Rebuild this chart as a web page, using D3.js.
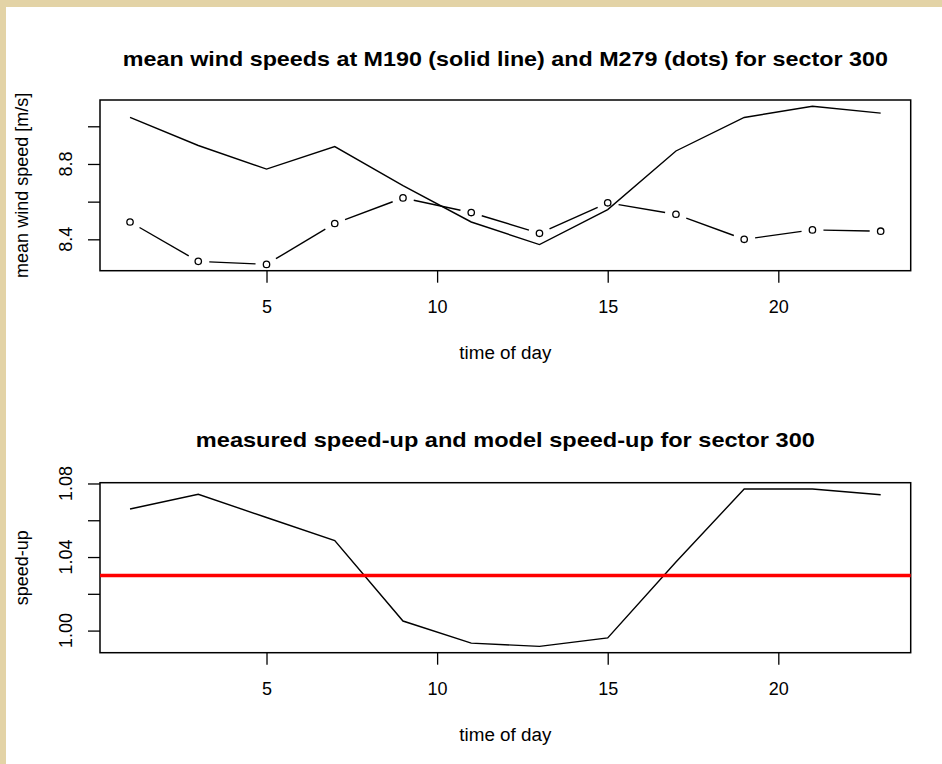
<!DOCTYPE html>
<html>
<head>
<meta charset="utf-8">
<script src="https://cdn.jsdelivr.net/npm/d3@7"></script>
<style>
  html, body { margin: 0; padding: 0; background: #fff; }
  svg { display: block; }
  text { font-family: "Liberation Sans", Arial, sans-serif; fill: #000; }
</style>
</head>
<body>
<svg id="chart" width="942" height="764"></svg>
<script>
// ---- data ----
const hours = [1, 3, 5, 7, 9, 11, 13, 15, 17, 19, 21, 23];
const m190 = [9.047, 8.898, 8.773, 8.892, 8.685, 8.492, 8.372, 8.558, 8.869, 9.047, 9.106, 9.070];
const m279 = [8.492, 8.283, 8.267, 8.484, 8.620, 8.542, 8.432, 8.594, 8.533, 8.400, 8.450, 8.443];
const speedup = [1.0661, 1.0741, 1.0615, 1.0490, 1.0052, 0.9932, 0.9914, 0.9960, 1.0373, 1.0770, 1.0770, 1.0739];
const modelSpeedup = 1.030;
const xTicks = [5, 10, 15, 20];
const yTicksTop = [8.4, 8.6, 8.8, 9.0];
const yLabelsTop = [8.4, 8.8];
const yTicksBot = [1.00, 1.02, 1.04, 1.06, 1.08];
const yLabelsBot = [1.00, 1.04, 1.08];

const title1 = "mean wind speeds at M190 (solid line) and M279 (dots) for sector 300";
const title2 = "measured speed-up and model speed-up for sector 300";

const svg = d3.select("#chart");
// beige frame (top and left)
svg.append("rect").attr("x", 0).attr("y", 0).attr("width", 942).attr("height", 764).attr("fill", "#e3d3a6");
svg.append("rect").attr("x", 6).attr("y", 7).attr("width", 936).attr("height", 757).attr("fill", "#ffffff");

function rExtent(vals) {
  const lo = d3.min(vals), hi = d3.max(vals), d = hi - lo;
  return [lo - 0.04 * d, hi + 0.04 * d];
}

const L = 100, R = 910.7;
const xDom = rExtent(hours);

function panel(opts) {
  const { top, bottom, yDom, yTicks, yLabels, title, titleY, titleLen, ylab, fmt } = opts;
  const x = d3.scaleLinear().domain(xDom).range([L, R]);
  const y = d3.scaleLinear().domain(yDom).range([bottom, top]);
  const g = svg.append("g");

  // x axis
  const xa = g.append("g").attr("transform", `translate(0,${bottom})`)
    .call(d3.axisBottom(x).tickValues(xTicks).tickSize(12).tickPadding(5).tickFormat(d3.format("d")));
  xa.select(".domain").remove();
  xa.selectAll("line").attr("stroke", "#000").attr("stroke-width", 1.3);
  xa.selectAll("text").attr("font-size", 18).attr("dy", "0.71em").attr("y", 30)
    .attr("font-family", "Liberation Sans, Arial, sans-serif");

  // y axis ticks
  const ya = g.append("g").attr("transform", `translate(${L},0)`)
    .call(d3.axisLeft(y).tickValues(yTicks).tickSize(12).tickFormat(""));
  ya.select(".domain").remove();
  ya.selectAll("line").attr("stroke", "#000").attr("stroke-width", 1.3);
  // y labels (rotated, R style)
  g.selectAll(".ylab").data(yLabels).enter().append("text")
    .attr("transform", d => `translate(72,${y(d)}) rotate(-90)`)
    .attr("text-anchor", "middle").attr("font-size", 18)
    .text(d => fmt(d));

  // box
  g.append("rect").attr("x", L).attr("y", top).attr("width", R - L).attr("height", bottom - top)
    .attr("fill", "none").attr("stroke", "#000").attr("stroke-width", 1.5);

  // titles
  g.append("text").attr("x", (L + R) / 2).attr("y", titleY).attr("text-anchor", "middle")
    .attr("font-size", 21).attr("font-weight", "bold")
    .attr("textLength", titleLen).attr("lengthAdjust", "spacingAndGlyphs")
    .text(title);
  g.append("text").attr("x", (L + R) / 2).attr("y", bottom + 88).attr("text-anchor", "middle")
    .attr("font-size", 18).attr("textLength", 92).attr("lengthAdjust", "spacingAndGlyphs")
    .text("time of day");
  g.append("text").attr("transform", `translate(28,${(top + bottom) / 2}) rotate(-90)`)
    .attr("text-anchor", "middle").attr("font-size", 18).text(ylab);
  return { g, x, y };
}

// ---- top panel ----
const p1 = panel({
  top: 100, bottom: 270.7, yDom: rExtent(m190.concat(m279)), yTicks: yTicksTop, yLabels: yLabelsTop,
  title: title1, titleY: 66, titleLen: 765, ylab: "mean wind speed [m/s]", fmt: d3.format(".1f")
});
// M279 dots with broken segments (type "b")
const pts = hours.map((h, i) => [p1.x(h), p1.y(m279[i])]);
const gap = 11;
for (let i = 0; i < pts.length - 1; i++) {
  const [x0, y0] = pts[i], [x1, y1] = pts[i + 1];
  const len = Math.hypot(x1 - x0, y1 - y0);
  if (len <= 2 * gap) continue;
  const ux = (x1 - x0) / len, uy = (y1 - y0) / len;
  p1.g.append("line")
    .attr("x1", x0 + ux * gap).attr("y1", y0 + uy * gap)
    .attr("x2", x1 - ux * gap).attr("y2", y1 - uy * gap)
    .attr("stroke", "#000").attr("stroke-width", 1.4);
}
p1.g.selectAll(".dot").data(hours).enter().append("circle")
  .attr("cx", (d) => p1.x(d)).attr("cy", (d, i) => p1.y(m279[i])).attr("r", 3.2)
  .attr("fill", "none").attr("stroke", "#000").attr("stroke-width", 1.3);
// M190 solid line
p1.g.append("path").datum(hours)
  .attr("d", d3.line().x(d => p1.x(d)).y((d, i) => p1.y(m190[i])))
  .attr("fill", "none").attr("stroke", "#000").attr("stroke-width", 1.4);

// ---- bottom panel ----
const p2 = panel({
  top: 482.7, bottom: 652.7, yDom: rExtent(speedup), yTicks: yTicksBot, yLabels: yLabelsBot,
  title: title2, titleY: 447, titleLen: 619, ylab: "speed-up", fmt: d3.format(".2f")
});
p2.g.append("path").datum(hours)
  .attr("d", d3.line().x(d => p2.x(d)).y((d, i) => p2.y(speedup[i])))
  .attr("fill", "none").attr("stroke", "#000").attr("stroke-width", 1.4);
p2.g.append("line").attr("x1", L).attr("x2", R)
  .attr("y1", p2.y(modelSpeedup)).attr("y2", p2.y(modelSpeedup))
  .attr("stroke", "#ff0000").attr("stroke-width", 3.5);
</script>
</body>
</html>
